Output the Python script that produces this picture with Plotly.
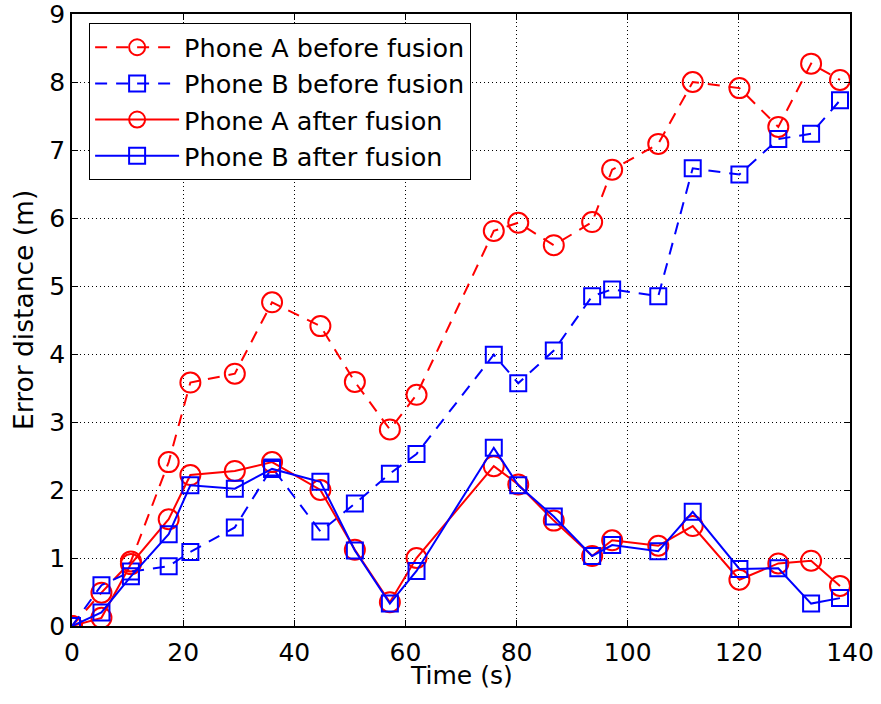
import plotly.graph_objects as go

# Sample times (s)
time_s = [0, 5.3, 10.6, 17.4, 21.3, 29.3, 36.0, 44.7, 50.9, 57.2, 62.0,
          75.9, 80.3, 86.7, 93.6, 97.2, 105.5, 111.7, 120.1, 127.1, 133.0, 138.2]

# Error distance (m)
phone_a_before = [0, 0.49, 0.95, 2.41, 3.58, 3.71, 4.76, 4.41, 3.59, 2.89, 3.40,
                  5.81, 5.93, 5.60, 5.94, 6.71, 7.09, 8.00, 7.91, 7.34, 8.27, 8.03]
phone_b_before = [0, 0.60, 0.80, 0.88, 1.09, 1.45, 2.33, 1.39, 1.80, 2.24, 2.53,
                  3.99, 3.57, 4.05, 4.85, 4.95, 4.85, 6.73, 6.64, 7.16, 7.24, 7.73]
phone_a_after = [0, 0.12, 0.91, 1.57, 2.22, 2.28, 2.41, 2.00, 1.12, 0.35, 1.00,
                 2.35, 2.08, 1.55, 1.03, 1.26, 1.18, 1.47, 0.68, 0.92, 0.96, 0.59]
phone_b_after = [0, 0.20, 0.73, 1.35, 2.07, 2.02, 2.31, 2.12, 1.11, 0.33, 0.81,
                 2.62, 2.07, 1.61, 1.03, 1.19, 1.10, 1.68, 0.84, 0.85, 0.33, 0.41]

series = [
    ("Phone A before fusion", phone_a_before, "#ff0000", "circle-open", 20, "12px,9px"),
    ("Phone B before fusion", phone_b_before, "#0000ff", "square-open", 16, "12px,9px"),
    ("Phone A after fusion", phone_a_after, "#ff0000", "circle-open", 20, "solid"),
    ("Phone B after fusion", phone_b_after, "#0000ff", "square-open", 16, "solid"),
]

fig = go.Figure()
for i, (name, vals, color, symbol, size, dash) in enumerate(series):
    fig.add_trace(go.Scatter(
        x=time_s, y=vals, name=name, mode="lines+markers",
        legendgroup=f"g{i}",
        line=dict(color=color, width=2, dash=dash),
        marker=dict(symbol=symbol, size=size, color=color, line=dict(width=2, color=color)),
    ))

font_family = "DejaVu Sans, Liberation Sans, Arial, sans-serif"
axis_common = dict(
    showline=True, linecolor="black", linewidth=1.5, mirror="ticks",
    ticks="inside", ticklen=6, tickcolor="black", tickwidth=1,
    showgrid=True, gridcolor="black", gridwidth=1, griddash="1px,3px",
    zeroline=False, ticklabeloverflow="allow", automargin=False,
    tickfont=dict(size=25, color="black", family=font_family),
)

fig.update_layout(
    width=881, height=704,
    margin=dict(l=72, r=31, t=14, b=78),
    paper_bgcolor="white", plot_bgcolor="white",
    font=dict(family=font_family, size=25, color="black"),
    xaxis=dict(range=[0, 140], tickvals=list(range(0, 141, 20)), ticklabelstandoff=3,
               **axis_common),
    yaxis=dict(range=[0, 9], tickvals=list(range(0, 10)), **axis_common),
    legend=dict(x=0.022, y=0.985, xanchor="left", yanchor="top",
                bgcolor="white", bordercolor="black", borderwidth=1,
                font=dict(size=25.5, color="black", family=font_family),
                traceorder="grouped", tracegroupgap=0, itemwidth=84),
    annotations=[
        dict(text="Time (s)", x=0.5, y=0, xref="paper", yref="paper",
             xanchor="center", yanchor="middle", yshift=-49, showarrow=False,
             font=dict(size=25, color="black", family=font_family)),
        dict(text="Error distance (m)", x=0, y=0.5, xref="paper", yref="paper",
             xanchor="center", yanchor="middle", xshift=-49, yshift=10,
             textangle=-90, showarrow=False,
             font=dict(size=26.5, color="black", family=font_family)),
    ],
    showlegend=True,
)

fig.write_html("out.html")
